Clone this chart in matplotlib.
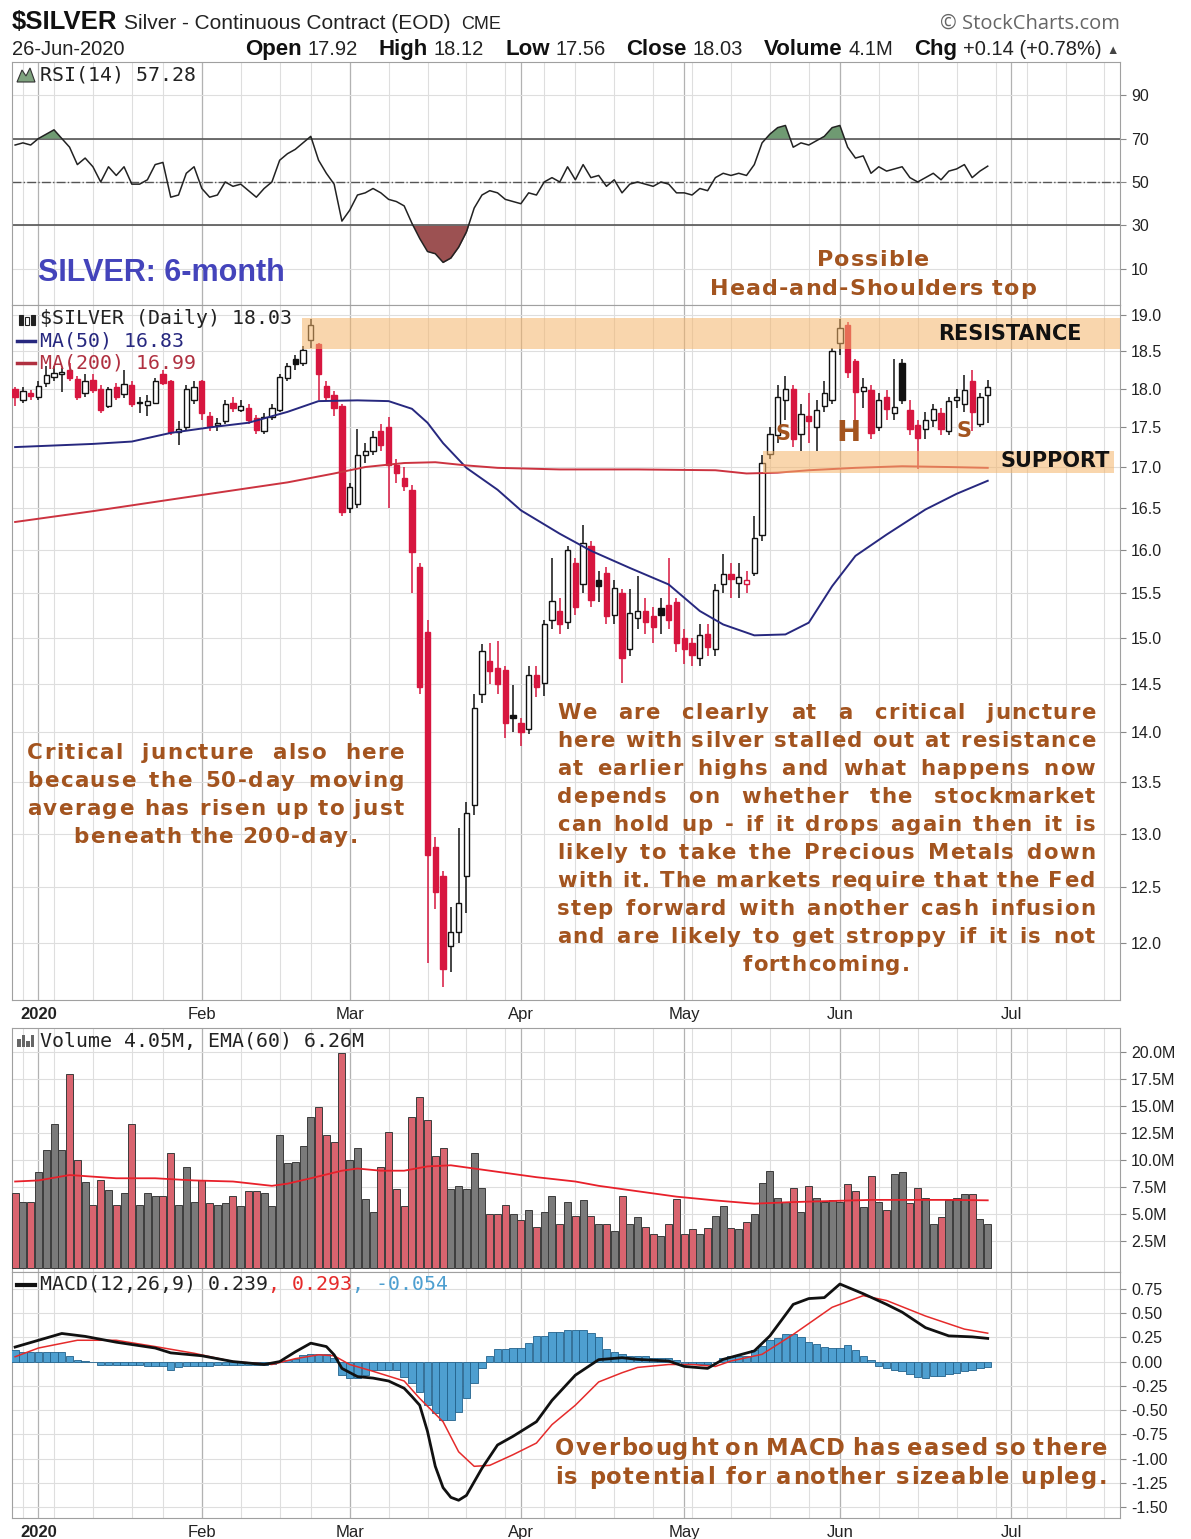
import matplotlib
matplotlib.use('Agg')
import matplotlib.pyplot as plt
from matplotlib.ticker import FixedLocator, NullLocator, FuncFormatter
from matplotlib.lines import Line2D
from matplotlib.patches import Rectangle, Polygon
import numpy as np
import pandas as pd

plt.rcParams['font.family'] = ['Liberation Sans', 'DejaVu Sans']
plt.rcParams['axes.unicode_minus'] = False

W, H = 1191, 1539

# ---------------- data ----------------
# trading days Dec 27 2019 .. Jun 26 2020 (126 bars), later days only feed the grid
holidays = pd.to_datetime(['2020-01-01', '2020-01-20', '2020-02-17',
                           '2020-04-10', '2020-05-25', '2020-07-03'])
days = pd.bdate_range('2019-12-27', '2020-07-31')
days = days[~days.isin(holidays)]

opens = [18.00, 17.86, 17.95, 17.90, 18.08, 18.16, 18.20, 18.25, 18.13, 17.94,
         18.12, 18.00, 17.78, 18.03, 17.93, 18.05, 17.83, 17.79, 17.82, 18.20,
         18.10, 17.44, 17.50, 17.85, 18.10, 17.65, 17.53, 17.58, 17.82, 17.73,
         17.75, 17.62, 17.45, 17.63, 17.72, 18.15, 18.40, 18.35, 18.66, 18.60,
         18.04, 17.92, 17.77, 16.50, 16.55, 17.15, 17.20, 17.45, 17.50, 17.02,
         16.86, 16.72, 15.80, 15.07, 12.87, 12.60, 11.97, 12.10, 12.60, 13.28,
         14.40, 14.75, 14.68, 14.65, 14.18, 14.10, 14.03, 14.60, 14.52, 15.20,
         15.30, 15.18, 15.85, 15.60, 16.05, 15.65, 15.73, 15.26, 15.50, 14.88,
         15.22, 15.30, 15.24, 15.33, 15.37, 15.40, 15.00, 14.95, 14.78, 15.05,
         14.88, 15.60, 15.72, 15.62, 15.60, 15.73, 16.17, 17.16, 17.40, 17.85,
         18.00, 17.42, 17.65, 17.50, 17.78, 17.85, 18.61, 18.86, 18.37, 17.97,
         17.99, 17.50, 17.90, 17.68, 18.35, 17.73, 17.53, 17.48, 17.60, 17.68,
         17.45, 17.86, 17.80, 18.10, 17.55, 17.92]
highs = [18.03, 18.02, 17.98, 18.10, 18.30, 18.30, 18.28, 18.35, 18.17, 18.20,
         18.20, 18.05, 18.03, 18.08, 18.25, 18.10, 17.90, 17.92, 18.15, 18.25,
         18.12, 17.58, 18.05, 18.10, 18.12, 17.70, 17.62, 17.85, 17.90, 17.85,
         17.80, 17.66, 17.68, 17.80, 18.20, 18.35, 18.45, 18.58, 18.95, 18.62,
         18.10, 17.97, 17.80, 16.80, 17.48, 17.30, 17.45, 17.55, 17.63, 17.10,
         17.00, 16.78, 15.85, 15.20, 12.97, 12.65, 12.32, 13.05, 13.30, 14.40,
         14.93, 14.95, 14.97, 14.70, 14.49, 14.15, 14.70, 14.70, 15.20, 15.90,
         15.45, 16.05, 15.90, 16.29, 16.10, 15.75, 15.80, 15.65, 15.55, 15.55,
         15.70, 15.45, 15.35, 15.45, 15.90, 15.45, 15.10, 15.00, 15.15, 15.15,
         15.60, 15.95, 15.85, 15.85, 15.75, 16.40, 17.15, 17.50, 18.05, 18.17,
         18.05, 17.80, 17.95, 17.85, 18.10, 18.55, 18.95, 18.90, 18.40, 18.15,
         18.05, 17.95, 17.98, 18.40, 18.40, 17.85, 17.60, 17.70, 17.80, 17.75,
         17.90, 18.00, 18.18, 18.25, 17.95, 18.12]
lows = [17.78, 17.82, 17.85, 17.85, 18.03, 18.10, 17.96, 18.10, 17.85, 17.90,
        17.95, 17.68, 17.75, 17.85, 17.88, 17.76, 17.68, 17.65, 17.80, 18.05,
        17.40, 17.28, 17.45, 17.80, 17.60, 17.45, 17.45, 17.55, 17.70, 17.70,
        17.55, 17.42, 17.42, 17.60, 17.70, 18.10, 18.25, 18.30, 18.55, 17.85,
        17.85, 17.65, 16.40, 16.44, 16.50, 17.05, 17.15, 17.20, 16.50, 16.80,
        16.70, 15.50, 14.40, 11.83, 12.30, 11.62, 11.75, 12.00, 12.27, 13.18,
        14.30, 14.50, 14.40, 13.94, 14.00, 13.86, 13.98, 14.37, 14.38, 15.10,
        15.05, 15.10, 15.25, 15.50, 15.35, 15.40, 15.15, 15.15, 14.51, 14.80,
        15.10, 15.05, 14.95, 15.05, 15.10, 14.85, 14.72, 14.70, 14.70, 14.80,
        14.80, 15.50, 15.45, 15.45, 15.50, 15.70, 16.10, 17.10, 17.30, 17.60,
        17.25, 17.20, 17.30, 17.20, 17.70, 17.80, 18.45, 18.15, 17.60, 17.75,
        17.35, 17.45, 17.60, 17.60, 17.80, 17.40, 16.98, 17.35, 17.50, 17.40,
        17.40, 17.75, 17.70, 17.45, 17.50, 17.56]
closes = [17.90, 17.97, 17.91, 18.04, 18.18, 18.21, 18.23, 18.15, 17.90, 18.10,
          17.98, 17.72, 18.00, 17.90, 18.07, 17.80, 17.81, 17.84, 18.10, 18.08,
          17.44, 17.48, 18.00, 18.02, 17.68, 17.52, 17.56, 17.80, 17.75, 17.78,
          17.60, 17.47, 17.63, 17.75, 18.16, 18.30, 18.33, 18.52, 18.86, 18.20,
          17.90, 17.75, 16.45, 16.75, 17.15, 17.20, 17.38, 17.28, 17.02, 16.93,
          16.76, 15.97, 14.47, 12.80, 12.46, 11.77, 12.10, 12.36, 13.20, 14.25,
          14.86, 14.64, 14.50, 14.10, 14.15, 14.00, 14.60, 14.47, 15.15, 15.41,
          15.15, 16.00, 15.34, 16.08, 15.42, 15.58, 15.24, 15.56, 14.78, 15.28,
          15.30, 15.18, 15.12, 15.26, 15.20, 14.95, 14.88, 14.82, 15.03, 14.90,
          15.54, 15.72, 15.66, 15.69, 15.65, 16.14, 17.05, 17.42, 17.90, 18.00,
          17.35, 17.67, 17.58, 17.73, 17.95, 18.50, 18.82, 18.23, 17.96, 18.03,
          17.43, 17.86, 17.74, 17.76, 17.86, 17.48, 17.36, 17.60, 17.74, 17.48,
          17.84, 17.90, 17.98, 17.70, 17.89, 18.03]

# moving averages (sampled on the chart every few days)
ma50_days = [0, 10, 15, 20, 25, 30, 35, 39, 44, 48, 51, 53, 55, 58, 62, 65, 70, 74, 79, 84,
             88, 91, 95, 99, 102, 105, 108, 112, 117, 121, 125]
ma50_vals = [17.25, 17.29, 17.32, 17.43, 17.50, 17.56, 17.70, 17.84, 17.85, 17.84,
             17.74, 17.56, 17.30, 16.99, 16.72, 16.47, 16.19, 15.99, 15.79, 15.60,
             15.30, 15.15, 15.03, 15.04, 15.17, 15.58, 15.93, 16.18, 16.48, 16.67, 16.83]
ma200_days = [0, 10, 20, 30, 35, 41, 45, 50, 54, 58, 62, 70, 80, 90, 94, 98, 102, 108, 114, 120, 125]
ma200_vals = [16.33, 16.46, 16.60, 16.74, 16.81, 16.92, 17.00, 17.05, 17.06, 17.02,
              16.99, 16.97, 16.97, 16.96, 16.92, 16.93, 16.96, 16.99, 17.01, 17.00, 16.99]

rsi = [67, 68, 67, 70, 72, 74, 70, 66, 58, 61,
       57, 50, 57, 53, 57, 49, 49, 51, 58, 59,
       43, 44, 54, 57, 47, 43, 44, 50, 48, 49,
       46, 43, 47, 50, 60, 63, 65, 68, 71, 60,
       54, 49, 32, 37, 44, 45, 47, 45, 42, 41,
       39, 31, 24, 18, 17, 13, 15, 20, 27, 38,
       44, 46, 45, 42, 41, 40, 45, 44, 50, 52,
       50, 57, 51, 58, 52, 53, 48, 51, 45, 49,
       50, 49, 48, 50, 49, 45, 45, 44, 47, 46,
       52, 54, 53, 54, 53, 58, 68, 72, 75, 76,
       66, 68, 67, 69, 71, 75, 76, 66, 61, 62,
       54, 57, 55, 56, 57, 52, 50, 52, 54, 51,
       55, 56, 58, 52, 55, 57.28]

volume_m = [6.9, 6.1, 6.1, 8.9, 10.9, 13.3, 10.9, 17.9, 10.0, 8.0,
            5.8, 8.1, 7.2, 5.8, 6.9, 13.3, 5.8, 6.9, 6.7, 6.7,
            10.6, 5.8, 9.3, 6.1, 8.1, 6.0, 5.8, 6.0, 6.7, 5.7,
            7.1, 7.1, 6.9, 5.7, 12.3, 9.7, 9.8, 11.3, 14.0, 14.9,
            12.3, 11.7, 19.9, 10.0, 11.1, 6.4, 5.2, 9.3, 12.6, 7.3,
            5.7, 14.0, 15.8, 13.7, 10.4, 11.1, 7.3, 7.6, 7.3, 10.6,
            7.4, 5.0, 5.0, 5.8, 5.0, 4.4, 5.4, 3.8, 5.2, 6.7,
            4.1, 6.1, 4.8, 6.3, 4.8, 4.1, 4.1, 3.4, 6.7, 4.1,
            4.7, 3.8, 3.1, 3.0, 4.1, 6.4, 3.1, 3.6, 3.1, 3.7,
            4.8, 5.7, 3.7, 3.6, 4.3, 5.0, 7.9, 9.0, 6.5, 6.1,
            7.4, 5.2, 7.6, 6.5, 6.1, 6.3, 6.1, 7.8, 7.1, 5.6,
            8.5, 6.1, 5.4, 8.7, 8.9, 6.0, 7.4, 6.5, 4.1, 4.7,
            6.3, 6.5, 6.8, 6.8, 4.5, 4.05]
vema_days = [0, 3, 7, 13, 18, 23, 28, 33, 35, 38, 42, 44, 47, 50, 53, 56, 59, 62, 67, 72,
             75, 80, 85, 90, 95, 100, 105, 110, 115, 120, 125]
vema_vals = [8.0, 8.1, 8.6, 8.3, 8.3, 8.1, 8.0, 7.6, 7.8, 8.3, 9.0, 9.2, 9.0, 9.0, 9.4,
             9.5, 9.2, 8.9, 8.4, 8.0, 7.6, 7.1, 6.6, 6.25, 5.95, 6.1, 6.2, 6.3, 6.3, 6.3, 6.26]

macd_days = [0, 3, 6, 9, 13, 18, 20, 24, 28, 32, 34, 36, 38, 40, 41, 42, 44, 46, 48, 50,
             51, 52, 53, 54, 55, 56, 57, 58, 60, 62, 64, 67, 69, 72, 75, 78, 80, 84, 86, 89,
             91, 95, 97, 100, 102, 104, 106, 109, 112, 114, 117, 120, 123, 125]
macd_vals = [0.15, 0.22, 0.29, 0.26, 0.20, 0.14, 0.09, 0.06, 0.00, -0.03,
             0.00, 0.10, 0.19, 0.155, 0.07, -0.07, -0.155, -0.17, -0.20, -0.275,
             -0.36, -0.45, -0.72, -1.08, -1.30, -1.40, -1.43, -1.38, -1.10, -0.86,
             -0.77, -0.62, -0.40, -0.14, 0.02, 0.04, 0.023, 0.006, -0.05, -0.07,
             0.023, 0.11, 0.265, 0.59, 0.65, 0.66, 0.80, 0.70, 0.59, 0.51,
             0.35, 0.265, 0.255, 0.239]
signal_days = [0, 3, 8, 13, 18, 23, 28, 33, 36, 39, 41, 43, 46, 50, 52, 55, 57, 59, 61, 64,
               67, 69, 72, 75, 78, 80, 84, 87, 90, 92, 96, 100, 105, 109, 112, 117, 122, 125]
signal_vals = [0.05, 0.14, 0.22, 0.22, 0.155, 0.086, 0.00, -0.03, 0.03, 0.07,
               0.06, -0.03, -0.10, -0.20, -0.38, -0.62, -0.93, -1.08, -1.07, -0.96,
               -0.84, -0.65, -0.45, -0.21, -0.115, -0.06, -0.03, -0.03, -0.05, 0.006,
               0.075, 0.28, 0.56, 0.68, 0.63, 0.47, 0.335, 0.293]
hist = [0.12, 0.10, 0.10, 0.10, 0.10, 0.10, 0.10, 0.06, 0.02, 0.01,
        0.00, -0.03, -0.035, -0.04, -0.04, -0.04, -0.04, -0.045, -0.045, -0.05,
        -0.085, -0.06, -0.05, -0.05, -0.05, -0.045, -0.035, -0.035, -0.035, -0.03,
        -0.03, -0.03, -0.03, -0.02, 0.01, 0.02, 0.03, 0.07, 0.08, 0.08,
        0.08, 0.035, -0.14, -0.17, -0.17, -0.14, -0.085, -0.085, -0.085, -0.085,
        -0.155, -0.22, -0.31, -0.45, -0.53, -0.60, -0.60, -0.52, -0.38, -0.22,
        -0.07, 0.06, 0.13, 0.13, 0.145, 0.145, 0.19, 0.26, 0.26, 0.31,
        0.31, 0.33, 0.33, 0.33, 0.29, 0.25, 0.13, 0.10, 0.08, 0.06,
        0.06, 0.06, 0.04, 0.04, 0.04, 0.02, -0.02, -0.02, -0.02, -0.02,
        0.00, 0.04, 0.06, 0.06, 0.06, 0.12, 0.16, 0.22, 0.24, 0.28,
        0.28, 0.25, 0.20, 0.18, 0.15, 0.14, 0.14, 0.17, 0.12, 0.06,
        0.02, -0.05, -0.07, -0.09, -0.10, -0.13, -0.16, -0.17, -0.15, -0.15,
        -0.13, -0.12, -0.10, -0.09, -0.07, -0.054]

quote_labels = ['Open', 'High', 'Low', 'Close', 'Volume', 'Chg']
quote_values = ['17.92', '18.12', '17.56', '18.03', '4.1M', '+0.14 (+0.78%)']

rsi_ticks = [10, 30, 50, 70, 90]
price_ticks = [12.0, 12.5, 13.0, 13.5, 14.0, 14.5, 15.0, 15.5, 16.0, 16.5, 17.0, 17.5, 18.0, 18.5, 19.0]
vol_ticks = [2.5, 5.0, 7.5, 10.0, 12.5, 15.0, 17.5, 20.0]
macd_ticks = [-1.5, -1.25, -1.0, -0.75, -0.5, -0.25, 0.0, 0.25, 0.5, 0.75]

# ---------------- figure ----------------
fig = plt.figure(figsize=(W / 100, H / 100), dpi=100)
rend = fig.canvas.get_renderer()

RED = '#d7163f'
BROWN = '#a3541f'

x = np.arange(len(closes))
o = np.array(opens); c = np.array(closes); hi = np.array(highs); lo = np.array(lows)
prev = np.r_[o[0], c[:-1]]
up = c >= prev

nd = 143
week_idx = [i for i in range(1, nd) if days[i].isocalendar()[1] != days[i - 1].isocalendar()[1]]
month_idx = [i for i in range(1, nd) if days[i].month != days[i - 1].month]
month_lbl = ['2020' if days[i].month == 1 else days[i].strftime('%b') for i in month_idx]


def panel(top, bottom, yticks):
    ax = fig.add_axes([12 / W, 1 - bottom / H, 1108 / W, (bottom - top) / H])
    ax.set_xlim(-0.4, 142.0)
    for s in ax.spines.values():
        s.set_color('#a0a0a0')
    ax.yaxis.tick_right()
    ax.tick_params(axis='y', length=4, width=0.8, color='#888888', pad=4,
                   labelsize=11.5, labelcolor='#222222')
    ax.tick_params(axis='x', length=0, labelsize=12, pad=5, labelcolor='#222222')
    ax.set_xticks([])
    for i in week_idx:
        ax.axvline(i, color='#dedede', lw=0.8, zorder=0)
    for i in month_idx:
        ax.axvline(i, color='#b2b2b2', lw=0.9, zorder=0)
    for v in yticks:
        ax.axhline(v, color='#dedede', lw=0.8, zorder=0)
    ax.yaxis.set_major_locator(FixedLocator(yticks))
    ax.yaxis.set_minor_locator(NullLocator())
    return ax


def month_axis(ax):
    ax.set_xticks(month_idx)
    ax.set_xticklabels(month_lbl)
    ax.get_xticklabels()[0].set_fontweight('bold')


# ---- RSI ----
ax_r = panel(62, 305, rsi_ticks)
ax_r.set_ylim(-6.6, 105.2)
ax_r.yaxis.set_major_formatter(FuncFormatter(lambda v, p: '%d' % v))
r_arr = np.array(rsi, dtype=float)
ax_r.axhline(70, color='#555555', lw=1.2, zorder=1)
ax_r.axhline(30, color='#555555', lw=1.2, zorder=1)
ax_r.axhline(50, color='#555555', lw=1.0, ls='-.', zorder=1)
ax_r.fill_between(x, r_arr, 70, where=r_arr >= 70, interpolate=True, color='#6f9a72', lw=0, zorder=2)
ax_r.fill_between(x, r_arr, 30, where=r_arr <= 30, interpolate=True, color='#9c5152', lw=0, zorder=2)
ax_r.plot(x, r_arr, color='#222222', lw=1.1, zorder=3)

# ---- price ----
ax_p = panel(305, 1000, price_ticks)
ax_p.set_yscale('log')
ax_p.set_ylim(11.51, 19.14)
ax_p.yaxis.set_major_locator(FixedLocator(price_ticks))
ax_p.yaxis.set_minor_locator(NullLocator())
ax_p.yaxis.set_major_formatter(FuncFormatter(lambda v, p: '%.1f' % v))
ax_p.yaxis.set_minor_formatter(FuncFormatter(lambda v, p: ''))
edge = np.where(up, '#111111', RED)
face = np.where(c >= o, 'white', edge)
ax_p.vlines(x, lo, hi, colors=edge, lw=1.1, zorder=3)
ax_p.bar(x, np.maximum(np.abs(c - o), 0.015), bottom=np.minimum(o, c), width=0.68,
         color=face, edgecolor=edge, lw=1.0, zorder=4)
ax_p.plot(ma50_days, ma50_vals, color='#27287f', lw=1.4, zorder=5)
ax_p.plot(ma200_days, ma200_vals, color='#cc3340', lw=1.4, zorder=5)
# resistance / support zones
ax_p.fill_between([36.9, 142.0], 18.54, 18.96, color='#f5b56a', alpha=0.55, lw=0, zorder=6)
ax_p.fill_between([96.1, 141.2], 16.92, 17.20, color='#f5b56a', alpha=0.55, lw=0, zorder=6)
month_axis(ax_p)

# ---- volume ----
ax_v = panel(1028, 1272, vol_ticks)
ax_v.set_ylim(-0.37, 22.2)
ax_v.yaxis.set_major_formatter(FuncFormatter(lambda v, p: '%.1fM' % v))
vcol = np.where(up, '#7a7a7a', '#d9646f')
ax_v.bar(x, volume_m, width=0.9, color=vcol, edgecolor='#3c3c3c', lw=0.7, zorder=3)
ax_v.plot(vema_days, vema_vals, color='#e8202a', lw=1.3, zorder=4)

# ---- MACD ----
ax_m = panel(1272, 1518, macd_ticks)
ax_m.set_ylim(-1.613, 0.924)
ax_m.yaxis.set_major_formatter(FuncFormatter(lambda v, p: '%.2f' % v))
ax_m.bar(x, hist, width=0.95, color='#4e9fd0', edgecolor='#22628c', lw=0.6, zorder=3)
ax_m.plot(signal_days, signal_vals, color='#e52b2b', lw=1.1, zorder=4)
ax_m.plot(macd_days, macd_vals, color='#111111', lw=2.0, zorder=5)
month_axis(ax_m)


# ---------------- text helpers ----------------
def width(t):
    return t.get_window_extent(renderer=rend).width


def measure(txt, **kw):
    t = fig.text(0, 0, txt, **kw)
    w_ = width(t)
    t.remove()
    return w_


_cw = {}


def char_w(ch, size):
    key = (ch, size)
    if key not in _cw:
        _cw[key] = measure(ch, fontsize=size, fontweight='bold', family='DejaVu Sans')
    return _cw[key]


def row(parts, x0, y):
    # parts: (text, kwargs, gap in px after it)
    xx = x0
    for txt, kw, gap in parts:
        t = fig.text(xx / W, 1 - y / H, txt, va='baseline', ha='left', **kw)
        xx += width(t) + gap
    return xx


def spaced_line(line, y, size, track, x0=None, x1=None, xc=None, color=BROWN):
    # bold letter-spaced text; justified between x0..x1 or centred on xc
    words = line.split()
    ws = [[char_w(ch, size) for ch in w_] for w_ in words]
    wtot = [sum(cw) + track * (len(cw) - 1) for cw in ws]
    if xc is None:
        gap = (x1 - x0 - sum(wtot)) / max(len(words) - 1, 1)
        xx = x0
    else:
        gap = size * 100 / 72 * 0.35 + track
        total = sum(wtot) + gap * (len(words) - 1)
        xx = xc - total / 2
    base = 1 - (y + 0.36 * size * 100 / 72) / H
    for w_, cw, wt in zip(words, ws, wtot):
        cx = xx
        for ch, cwi in zip(w_, cw):
            fig.text(cx / W, base, ch, fontsize=size, fontweight='bold', family='DejaVu Sans',
                     color=color, ha='left', va='baseline')
            cx += cwi + track
        xx += wt + gap


def paragraph(lines, x0, x1, y0, dy, size, track, center_last=True):
    for k, line in enumerate(lines):
        y = y0 + k * dy
        if k == len(lines) - 1 and center_last:
            spaced_line(line, y, size, track, xc=(x0 + x1) / 2)
        else:
            spaced_line(line, y, size, track, x0=x0, x1=x1)


# header
row([('$SILVER', dict(fontsize=18.5, fontweight='bold', color='#111111'), 7),
     ('Silver - Continuous Contract (EOD)', dict(fontsize=15, color='#222222'), 10),
     ('CME', dict(fontsize=13, color='#222222'), 0)], 12, 29)
fig.text(1120 / W, 1 - 29 / H, '\u00a9 StockCharts.com', ha='right', va='baseline',
         fontsize=14.5, color='#666666', family=['Open Sans', 'DejaVu Sans'])
fig.text(12 / W, 1 - 55 / H, '26-Jun-2020', va='baseline', fontsize=14.5, color='#222222')
B = dict(fontsize=16, fontweight='bold', color='#111111')
R = dict(fontsize=14.5, color='#222222')
# spread the quote line evenly between x=245 and the arrow at the right edge
lw_ = [measure(s, **B) for s in quote_labels]
vw_ = [measure(s, **R) for s in quote_values]
inner = 6
pair_gap = (1102 - 245 - sum(lw_) - sum(vw_) - inner * len(lw_)) / (len(lw_) - 1)
xx = 245
for lab, val, a, b in zip(quote_labels, quote_values, lw_, vw_):
    fig.text(xx / W, 1 - 55 / H, lab, va='baseline', **B)
    fig.text((xx + a + inner) / W, 1 - 55 / H, val, va='baseline', **R)
    xx += a + inner + b + pair_gap
fig.text(1119 / W, 1 - 54 / H, '\u25b2', va='baseline', ha='right', fontsize=9, color='#444444')

# panel legends
MONO = dict(family='DejaVu Sans Mono', fontsize=14.3)
fig.text(40 / W, 1 - 75 / H, 'RSI(14) 57.28', va='center', color='#222222', **MONO)
fig.add_artist(Polygon([(17 / W, 1 - 82 / H), (22 / W, 1 - 70 / H), (26 / W, 1 - 76 / H),
                        (30 / W, 1 - 68 / H), (35 / W, 1 - 82 / H)], closed=True,
                       transform=fig.transFigure, facecolor='#7fa37f', edgecolor='#333333', lw=0.8))
fig.text(40 / W, 1 - 319 / H, '$SILVER (Daily) 18.03', va='center', color='#222222', **MONO)
for k, xb in enumerate([19, 25, 31]):
    fig.add_artist(Rectangle((xb / W, 1 - 325 / H), 4 / W, (10 - 2 * (k % 2)) / H,
                             transform=fig.transFigure, facecolor='#222222' if k != 1 else 'white',
                             edgecolor='#222222', lw=0.8))
fig.add_artist(Line2D([17 / W, 35 / W], [1 - 341 / H] * 2, transform=fig.transFigure,
                      color='#27287f', lw=2.5))
fig.text(40 / W, 1 - 341 / H, 'MA(50) 16.83', va='center', color='#27287f', **MONO)
fig.add_artist(Line2D([17 / W, 35 / W], [1 - 363 / H] * 2, transform=fig.transFigure,
                      color='#b03040', lw=2.5))
fig.text(40 / W, 1 - 363 / H, 'MA(200) 16.99', va='center', color='#b03040', **MONO)
for k, hb in enumerate([8, 12, 6, 12]):
    fig.add_artist(Rectangle(((17 + 4.5 * k) / W, 1 - 1047 / H), 3.5 / W, hb / H,
                             transform=fig.transFigure, facecolor='#666666', lw=0))
fig.text(40 / W, 1 - 1041 / H, 'Volume 4.05M, EMA(60) 6.26M', va='center', color='#222222', **MONO)
fig.add_artist(Line2D([17 / W, 35 / W], [1 - 1285 / H] * 2, transform=fig.transFigure,
                      color='#111111', lw=3))
row([('MACD(12,26,9) 0.239', dict(color='#222222', **MONO), 0),
     (', 0.293', dict(color='#e52b2b', **MONO), 0),
     (', -0.054', dict(color='#4e9fd0', **MONO), 0)], 40, 1290)

# annotations
fig.text(38 / W, 1 - 273 / H, 'SILVER: 6-month', va='center', ha='left', fontsize=22,
         fontweight='bold', color='#4444bb')
spaced_line('Possible', 258, 16, 1.2, xc=873)
spaced_line('Head-and-Shoulders top', 287, 16, 1.0, xc=873)
ann = dict(fontweight='bold', color=BROWN, family='DejaVu Sans', va='center', ha='center')
fig.text(783 / W, 1 - 434 / H, 'S', fontsize=15, **ann)
fig.text(848 / W, 1 - 433 / H, 'H', fontsize=21, **ann)
fig.text(964 / W, 1 - 431 / H, 'S', fontsize=15, **ann)
lbl = dict(fontweight='bold', color='#111111', family='DejaVu Sans', va='center', ha='center', fontsize=15)
fig.text(1010 / W, 1 - 334 / H, 'RESISTANCE', **lbl)
fig.text(1055 / W, 1 - 461 / H, 'SUPPORT', **lbl)

paragraph(['Critical juncture also here',
           'because the 50-day moving',
           'average has risen up to just',
           'beneath the 200-day.'], 27, 404, 751, 28, 15.5, 1.4)
paragraph(['We are clearly at a critical juncture',
           'here with silver stalled out at resistance',
           'at earlier highs and what happens now',
           'depends on whether the stockmarket',
           'can hold up - if it drops again then it is',
           'likely to take the Precious Metals down',
           'with it. The markets require that the Fed',
           'step forward with another cash infusion',
           'and are likely to get stroppy if it is not',
           'forthcoming.'], 557, 1095, 711, 28, 15.3, 1.2)
paragraph(['Overbought on MACD has eased so there',
           'is potential for another sizeable upleg.'], 555, 1107, 1447, 29, 16.3, 1.3,
          center_last=False)

fig.savefig('out.png', dpi=100, facecolor='white')
